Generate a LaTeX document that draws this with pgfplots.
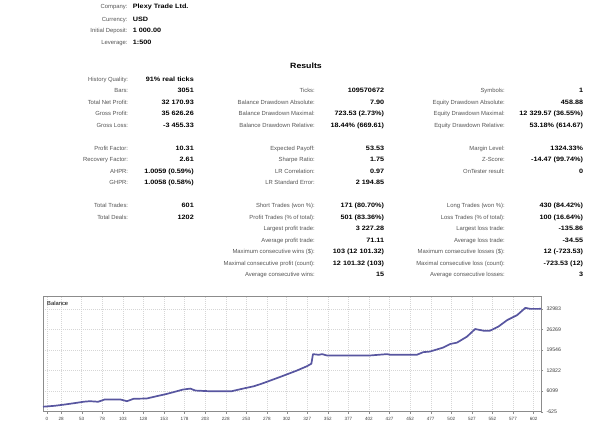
\documentclass[border=0pt]{standalone}
\usepackage{fontspec}
\setmainfont{Liberation Sans}
\newfontfamily\valfont[FakeStretch=1.15]{Liberation Sans}
\usepackage{pgfplots}
\pgfplotsset{compat=1.18}
\definecolor{lblgray}{RGB}{85,85,85}
\definecolor{balance}{RGB}{88,86,160}

\tikzset{
  lbl/.style={anchor=base east, inner sep=0pt, text=lblgray, font=\fontsize{5.9}{7}\selectfont},
  val/.style={anchor=base east, inner sep=0pt, text=black, font=\valfont\bfseries\fontsize{6.3}{7}\selectfont},
}
% label end x, value end x, row, label, value
\newcommand\entry[5]{%
  \node[lbl] at (#1, {343.9-11.5*#3}) {#4};
  \node[val] at (#2, {343.9-11.5*#3}) {#5};}

\begin{document}
\begin{tikzpicture}[x=1pt, y=1pt]
\path (0,0) rectangle (600,425);

% header
\node[lbl] at (127.7, 416.2) {Company:};
\node[val, anchor=base west] at (132.7, 416.2) {Plexy Trade Ltd.};
\node[lbl] at (127.7, 403.9) {Currency:};
\node[val, anchor=base west] at (132.7, 403.9) {USD};
\node[lbl] at (127.7, 392.2) {Initial Deposit:};
\node[val, anchor=base west] at (132.7, 392.2) {1 000.00};
\node[lbl] at (127.7, 380.6) {Leverage:};
\node[val, anchor=base west] at (132.7, 380.6) {1:500};

\node[anchor=base, inner sep=0pt, font=\valfont\bfseries\fontsize{7.6}{9}\selectfont] at (306, 356.2) {Results};

% column 1
\entry{128.3}{194}{0}{History Quality:}{91\% real ticks}
\entry{128.3}{194}{1}{Bars:}{3051}
\entry{128.3}{194}{2}{Total Net Profit:}{32 170.93}
\entry{128.3}{194}{3}{Gross Profit:}{35 626.26}
\entry{128.3}{194}{4}{Gross Loss:}{-3 455.33}
\entry{128.3}{194}{6}{Profit Factor:}{10.31}
\entry{128.3}{194}{7}{Recovery Factor:}{2.61}
\entry{128.3}{194}{8}{AHPR:}{1.0059 (0.59\%)}
\entry{128.3}{194}{9}{GHPR:}{1.0058 (0.58\%)}
\entry{128.3}{194}{11}{Total Trades:}{601}
\entry{128.3}{194}{12}{Total Deals:}{1202}

% column 2
\entry{315}{384.3}{1}{Ticks:}{109570672}
\entry{315}{384.3}{2}{Balance Drawdown Absolute:}{7.90}
\entry{315}{384.3}{3}{Balance Drawdown Maximal:}{723.53 (2.73\%)}
\entry{315}{384.3}{4}{Balance Drawdown Relative:}{18.44\% (669.61)}
\entry{315}{384.3}{6}{Expected Payoff:}{53.53}
\entry{315}{384.3}{7}{Sharpe Ratio:}{1.75}
\entry{315}{384.3}{8}{LR Correlation:}{0.97}
\entry{315}{384.3}{9}{LR Standard Error:}{2 194.85}
\entry{315}{384.3}{11}{Short Trades (won \%):}{171 (80.70\%)}
\entry{315}{384.3}{12}{Profit Trades (\% of total):}{501 (83.36\%)}
\entry{315}{384.3}{13}{Largest profit trade:}{3 227.28}
\entry{315}{384.3}{14}{Average profit trade:}{71.11}
\entry{315}{384.3}{15}{Maximum consecutive wins (\$):}{103 (12 101.32)}
\entry{315}{384.3}{16}{Maximal consecutive profit (count):}{12 101.32 (103)}
\entry{315}{384.3}{17}{Average consecutive wins:}{15}

% column 3
\entry{505}{583.3}{1}{Symbols:}{1}
\entry{505}{583.3}{2}{Equity Drawdown Absolute:}{458.88}
\entry{505}{583.3}{3}{Equity Drawdown Maximal:}{12 329.57 (36.55\%)}
\entry{505}{583.3}{4}{Equity Drawdown Relative:}{53.18\% (614.67)}
\entry{505}{583.3}{6}{Margin Level:}{1324.33\%}
\entry{505}{583.3}{7}{Z-Score:}{-14.47 (99.74\%)}
\entry{505}{583.3}{8}{OnTester result:}{0}
\entry{505}{583.3}{11}{Long Trades (won \%):}{430 (84.42\%)}
\entry{505}{583.3}{12}{Loss Trades (\% of total):}{100 (16.64\%)}
\entry{505}{583.3}{13}{Largest loss trade:}{-135.86}
\entry{505}{583.3}{14}{Average loss trade:}{-34.55}
\entry{505}{583.3}{15}{Maximum consecutive losses (\$):}{12 (-723.53)}
\entry{505}{583.3}{16}{Maximal consecutive loss (count):}{-723.53 (12)}
\entry{505}{583.3}{17}{Average consecutive losses:}{3}

% balance chart
\begin{axis}[
  at={(43pt,13.3pt)}, anchor=south west,
  scale only axis, width=498pt, height=115.7pt,
  xmin=6, xmax=611, ymin=-625, ymax=37200,
  scaled y ticks=false, scaled x ticks=false,
  axis line style={draw=black!45, line width=0.8pt},
  xtick pos=bottom, ytick pos=right,
  yticklabel pos=right,
  tick align=outside, major tick length=2pt,
  tick style={draw=black!45},
  grid=major,
  major grid style={draw=black!16, dash pattern=on 1pt off 1pt},
  xtick={10.6,28,53,78,103,128,153,178,203,228,253,278,302,327,352,377,402,427,452,477,502,527,552,577,602},
  xticklabels={0,28,53,78,103,128,153,178,203,228,253,278,302,327,352,377,402,427,452,477,502,527,552,577,602},
  ytick={-625,6099,12822,19546,26269,32983},
  yticklabels={-625,6099,12822,19546,26269,32983},
  x tick label style={font=\fontsize{4.6}{5}\selectfont, text=black!75},
  y tick label style={font=\fontsize{5.2}{6}\selectfont, text=black!75},
  clip=false,
]
\addplot[color=balance, line width=1.7pt, line join=round] coordinates {
  (6,1000) (20,1300) (33,1740) (45,2200) (55,2620) (63,2810) (73,2620)
  (81,3370) (100,3370) (108,2810) (116,3590) (132,3690) (144,4440)
  (155,5100) (164,5730) (176,6610) (185,6930) (191,6290) (209,6060)
  (235,6060) (249,6930) (262,7680) (272,8560) (294,10730) (314,12780)
  (326,14170) (332,15050) (334,18200) (341,17970) (345,18200) (351,17750)
  (403,17750) (424,18200) (428,17970) (460,17970) (468,18840) (476,19030)
  (492,20330) (501,21530) (509,21960) (521,23900) (531,26400) (541,25860)
  (549,25860) (559,27160) (570,29330) (582,30950) (592,33320) (598,32990)
  (611,33000)
};
\node[anchor=north west, inner sep=0pt, font=\fontsize{5.8}{7}\selectfont]
  at (rel axis cs:0.008,0.96) {Balance};
\end{axis}
\end{tikzpicture}
\end{document}
